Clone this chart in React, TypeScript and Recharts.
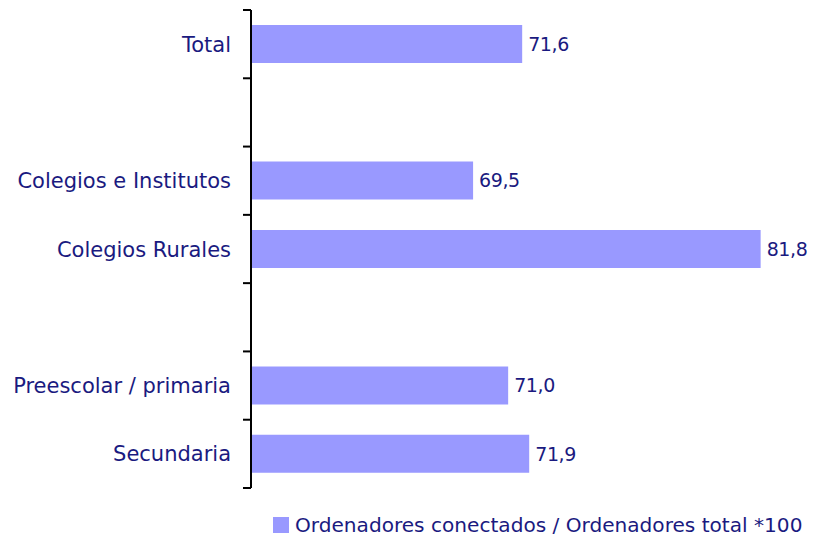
import { BarChart, Bar, XAxis, YAxis, LabelList, Legend } from 'recharts';

const categories = ['Total', '', 'Colegios e Institutos', 'Colegios Rurales', '', 'Preescolar / primaria', 'Secundaria'];
const values = [71.6, null, 69.5, 81.8, null, 71.0, 71.9];
const seriesName = 'Ordenadores conectados / Ordenadores total *100';

const data = categories.map((name, i) => ({ name, value: values[i] }));

const FONT = '"DejaVu Sans", Verdana, sans-serif';
const TEXT = '#1A1A80';
const BAR = '#9999FF';

// Labels to the left, and the tick marks sit on the category boundaries
const CategoryTick = (props: any) => {
  const { x, y, payload, index } = props;
  const half = payload.offset || 34;
  const last = index === categories.length - 1;
  return (
    <g>
      <line x1={x - 8} x2={x} y1={y - half} y2={y - half} stroke="#000" strokeWidth={2} />
      {last && <line x1={x - 8} x2={x} y1={y + half} y2={y + half} stroke="#000" strokeWidth={2} />}
      <text x={x - 20} y={y} dy="0.36em" textAnchor="end" fill={TEXT} fontSize={21} fontFamily={FONT}>
        {payload.value}
      </text>
    </g>
  );
};

const ValueLabel = (props: any) => {
  const { x, y, width, height, value } = props;
  if (value == null) return null;
  return (
    <text
      x={x + width + 6}
      y={y + height / 2}
      dy="0.36em"
      fill={TEXT}
      fontSize={19}
      letterSpacing={-0.4}
      fontFamily={FONT}
    >
      {Number(value).toFixed(1).replace('.', ',')}
    </text>
  );
};

const LegendContent = () => (
  <div style={{ paddingTop: 27, paddingLeft: 273, display: 'flex', alignItems: 'center', height: 20 }}>
    <span style={{ width: 16, height: 16, flexShrink: 0, background: BAR, display: 'inline-block', marginRight: 6 }} />
    <span style={{ color: TEXT, fontSize: 20.1, fontFamily: FONT, lineHeight: '20px', whiteSpace: 'nowrap' }}>{seriesName}</span>
  </div>
);

export default function App() {
  return (
    <div style={{ width: 815, height: 543, margin: -8, overflow: 'hidden' }}>
      <BarChart
        width={815}
        height={543}
        data={data}
        layout="vertical"
        barCategoryGap="22%"
        margin={{ top: 10, right: 38, left: 0, bottom: 8 }}
      >
        <XAxis type="number" domain={[60, 82.5]} hide />
        <YAxis
          type="category"
          dataKey="name"
          width={251}
          tickLine={false}
          tickSize={0}
          tickMargin={0}
          axisLine={{ stroke: '#000', strokeWidth: 2 }}
          tick={<CategoryTick />}
          interval={0}
        />
        <Legend
          verticalAlign="bottom"
          align="left"
          wrapperStyle={{ left: 0, width: 815 }}
          content={<LegendContent />}
        />
        <Bar dataKey="value" name={seriesName} fill={BAR} isAnimationActive={false}>
          <LabelList dataKey="value" content={<ValueLabel />} />
        </Bar>
      </BarChart>
    </div>
  );
}
